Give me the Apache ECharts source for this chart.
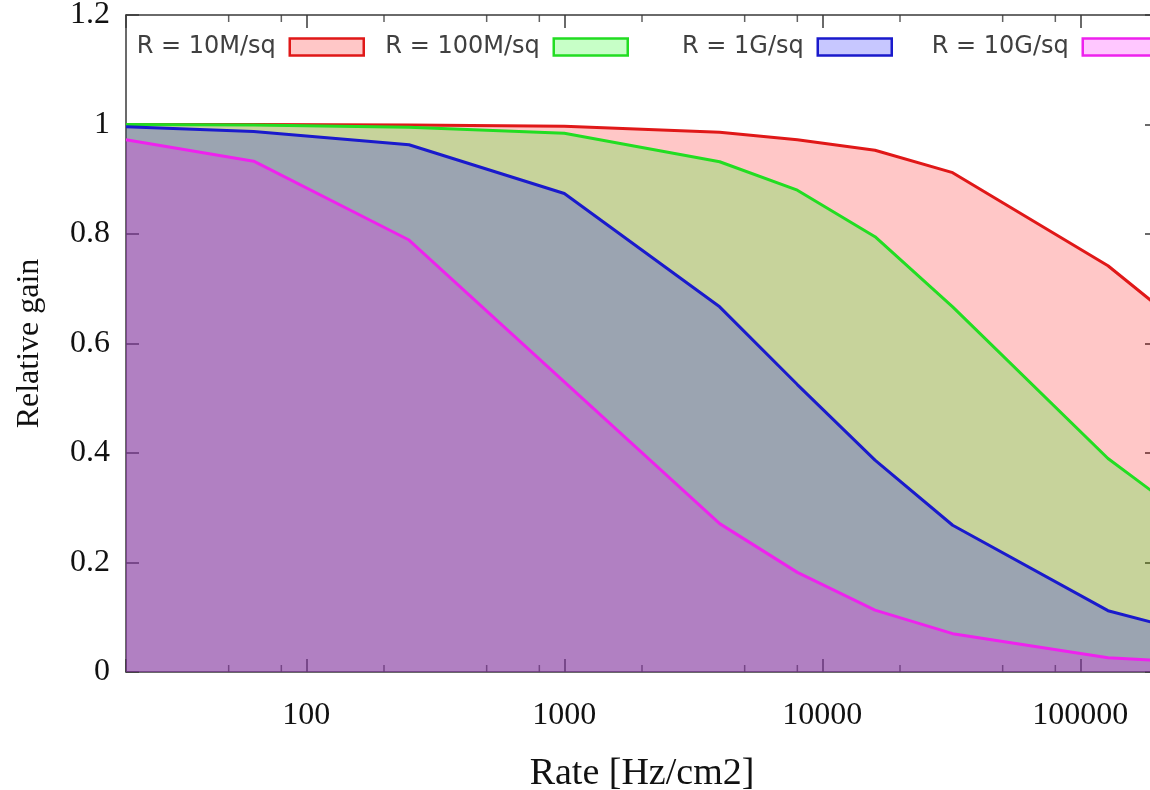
<!DOCTYPE html>
<html>
<head>
<meta charset="utf-8">
<script src="https://cdn.jsdelivr.net/npm/echarts@6.0.0/dist/echarts.min.js"></script>
<style>
html,body{margin:0;padding:0;background:#fff;}
#chart{width:1150px;height:790px;}
</style>
</head>
<body>
<div id="chart"></div>
<script>
// ---- data ----
const rates = [20, 62.5, 250, 1000, 4000, 8000, 16000, 32000, 128000, 200000];
const gain10M  = [1.000, 1.000, 0.999, 0.997, 0.986, 0.972, 0.953, 0.912, 0.742, 0.668];
const gain100M = [1.000, 0.999, 0.995, 0.984, 0.932, 0.880, 0.795, 0.667, 0.390, 0.322];
const gain1G   = [0.996, 0.987, 0.963, 0.874, 0.667, 0.525, 0.387, 0.268, 0.112, 0.088];
const gain10G  = [0.972, 0.933, 0.789, 0.530, 0.271, 0.182, 0.113, 0.070, 0.026, 0.021];
const seriesNames = ['R = 10M/sq', 'R = 100M/sq', 'R = 1G/sq', 'R = 10G/sq'];
const minorTickValues = [50, 80, 200, 500, 800, 2000, 5000, 8000, 20000, 50000, 80000];
const yMin = 0, yMax = 1.2, yStep = 0.2;
const xMin = 20, xMax = 200000;

const lineColors = ['#e01818', '#22dd22', '#1a1acc', '#ee22ee'];
const fillColors = ['rgba(255,0,0,0.22)', 'rgba(0,255,0,0.22)', 'rgba(0,0,255,0.22)', 'rgba(255,0,255,0.22)'];
const allGains = [gain10M, gain100M, gain1G, gain10G];

const serif = '"Liberation Serif", "DejaVu Serif", serif';
const sans = '"DejaVu Sans", sans-serif';
const axisColor = '#3a3a3a';

const chart = echarts.init(document.getElementById('chart'), null, {renderer: 'canvas'});

const lineSeries = allGains.map((g, i) => ({
  name: seriesNames[i],
  type: 'line',
  data: rates.map((r, j) => [r, g[j]]),
  showSymbol: false,
  symbol: 'none',
  lineStyle: {color: lineColors[i], width: 3},
  itemStyle: {color: lineColors[i]},
  areaStyle: {color: fillColors[i], opacity: 1, origin: 'start'},
  z: 2 + i,
  silent: true,
  animation: false
}));

const legendRight = [785, 521, 257, -8];
const legends = seriesNames.map((n, i) => ({
  show: true,
  right: legendRight[i],
  top: 35,
  padding: 0,
  align: 'right',
  itemWidth: 74,
  itemHeight: 17,
  selectedMode: false,
  textStyle: {fontFamily: sans, fontSize: 24, color: '#404040', padding: [0, 9, 0, 0]},
  data: [{
    name: n,
    icon: 'rect',
    itemStyle: {color: fillColors[i], borderColor: lineColors[i], borderWidth: 2.5}
  }]
}));

function tickSeries(y, offset) {
  return {
    type: 'scatter',
    data: minorTickValues.map(v => [v, y]),
    symbol: 'rect',
    symbolSize: [1.5, 7],
    symbolOffset: [0, offset],
    itemStyle: {color: axisColor},
    clip: false,
    silent: true,
    z: 1,
    animation: false
  };
}

const option = {
  backgroundColor: '#ffffff',
  animation: false,
  legend: legends,
  grid: {left: 126, top: 15, width: 1032, height: 657, containLabel: false, outerBoundsMode: 'none'},
  xAxis: [{
    type: 'log', logBase: 10, min: xMin, max: xMax, position: 'bottom',
    name: 'Rate [Hz/cm2]', nameLocation: 'middle', nameGap: 83,
    nameTextStyle: {fontFamily: serif, fontSize: 38, color: '#111'},
    axisLine: {show: true, onZero: false, lineStyle: {color: axisColor, width: 1.5}},
    axisTick: {show: true, inside: true, length: 13, lineStyle: {color: axisColor, width: 1.5}},
    splitLine: {show: false}, minorTick: {show: false},
    axisLabel: {
      fontFamily: serif, fontSize: 32, color: '#111', margin: 28,
      formatter: v => {
        const l = Math.log10(v);
        return Math.abs(l - Math.round(l)) < 1e-6 ? String(Math.round(v)) : '';
      }
    }
  }, {
    type: 'log', logBase: 10, min: xMin, max: xMax, position: 'top',
    axisLine: {show: true, onZero: false, lineStyle: {color: axisColor, width: 1.5}},
    axisTick: {show: true, inside: true, length: 13, lineStyle: {color: axisColor, width: 1.5}},
    axisLabel: {show: false}, splitLine: {show: false}
  }],
  yAxis: [{
    type: 'value', min: yMin, max: yMax, interval: yStep, position: 'left',
    name: 'Relative gain', nameLocation: 'middle', nameGap: 80, nameRotate: 90,
    nameTextStyle: {fontFamily: serif, fontSize: 32, color: '#111'},
    axisLine: {show: true, onZero: false, lineStyle: {color: axisColor, width: 1.5}},
    axisTick: {show: true, inside: true, length: 13, lineStyle: {color: axisColor, width: 1.5}},
    splitLine: {show: false},
    axisLabel: {fontFamily: serif, fontSize: 32, color: '#111', margin: 16}
  }, {
    type: 'value', min: yMin, max: yMax, interval: yStep, position: 'right',
    axisLine: {show: true, onZero: false, lineStyle: {color: axisColor, width: 1.5}},
    axisTick: {show: true, inside: true, length: 13, lineStyle: {color: axisColor, width: 1.5}},
    axisLabel: {show: false}, splitLine: {show: false}
  }],
  series: lineSeries.concat([tickSeries(yMin, -3.5), tickSeries(yMax, 3.5)])
};
chart.setOption(option);
</script>
</body>
</html>
